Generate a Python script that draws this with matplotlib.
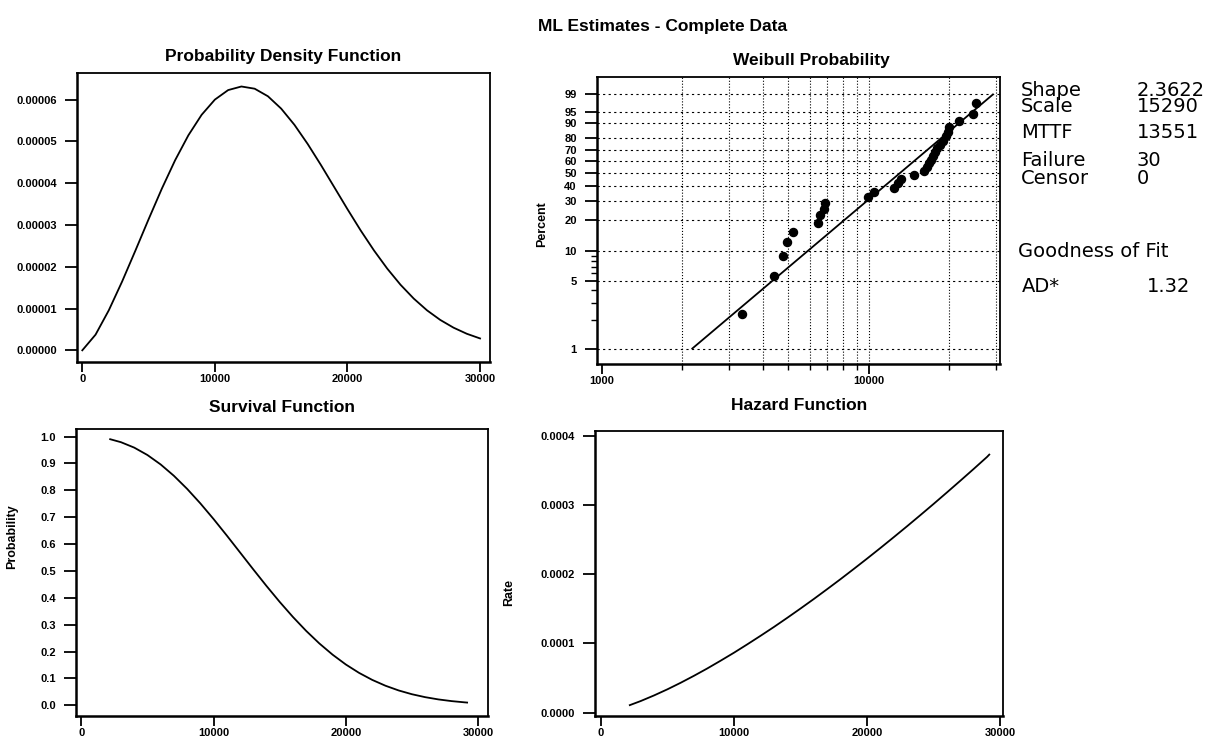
import numpy as np
import matplotlib
matplotlib.use("Agg")
import matplotlib.pyplot as plt
from matplotlib.ticker import FormatStrFormatter, NullFormatter, FixedLocator

plt.rcParams['font.family'] = ['Liberation Sans', 'DejaVu Sans']

W, H = 1222, 742

# values
pdf_x = [0, 1000, 2000, 3000, 4000, 5000, 6000, 7000, 8000, 9000, 10000,
         11000, 12000, 13000, 14000, 15000, 16000, 17000, 18000, 19000, 20000,
         21000, 22000, 23000, 24000, 25000, 26000, 27000, 28000, 29000, 30000]
pdf_y = [0.0, 0.375e-5, 0.959e-5, 1.645e-5, 2.384e-5, 3.138e-5, 3.871e-5,
         4.551e-5, 5.148e-5, 5.639e-5, 6.003e-5, 6.231e-5, 6.317e-5, 6.264e-5,
         6.083e-5, 5.787e-5, 5.399e-5, 4.940e-5, 4.436e-5, 3.908e-5, 3.379e-5,
         2.868e-5, 2.391e-5, 1.956e-5, 1.570e-5, 1.238e-5, 0.957e-5, 0.727e-5,
         0.542e-5, 0.396e-5, 0.284e-5]

life_x = [2183, 3000, 4000, 5000, 6000, 7000, 8000, 9000, 10000, 11000, 12000,
          13000, 14000, 15000, 16000, 17000, 18000, 19000, 20000, 21000, 22000,
          23000, 24000, 25000, 26000, 27000, 28000, 29000, 29170]
surv_y = [0.990, 0.9789, 0.9588, 0.9312, 0.8961, 0.8539, 0.8053, 0.7513,
          0.6930, 0.6317, 0.5688, 0.5058, 0.4440, 0.3846, 0.3286, 0.2768,
          0.2299, 0.1882, 0.1517, 0.1205, 0.0943, 0.0726, 0.0550, 0.0410,
          0.0301, 0.0217, 0.0154, 0.0107, 0.0100]
haz_y = [1.09e-5, 1.68e-5, 2.49e-5, 3.37e-5, 4.32e-5, 5.33e-5, 6.39e-5,
         7.51e-5, 8.66e-5, 9.87e-5, 1.111e-4, 1.238e-4, 1.370e-4, 1.505e-4,
         1.643e-4, 1.785e-4, 1.929e-4, 2.077e-4, 2.227e-4, 2.380e-4, 2.536e-4,
         2.694e-4, 2.855e-4, 3.018e-4, 3.184e-4, 3.352e-4, 3.522e-4, 3.695e-4,
         3.729e-4]

fail_times = [3360, 4400, 4790, 4960, 5220, 6430, 6550, 6780, 6840, 9910,
              10440, 12420, 12850, 13210, 14760, 16100, 16520, 16810, 17110,
              17400, 17710, 18010, 18490, 18980, 19480, 19820, 19990, 21700,
              24600, 25260]
fail_pct = [2.30, 5.59, 8.88, 12.17, 15.46, 18.75, 22.04, 25.33, 28.62, 31.91,
            35.20, 38.49, 41.78, 45.07, 48.36, 51.64, 54.93, 58.22, 61.51,
            64.80, 68.09, 71.38, 74.67, 77.96, 81.25, 84.54, 87.83, 91.12,
            94.41, 97.70]
fit_x = [2183, 29170]
fit_pct = [1.0, 99.0]

pct_ticks = [1, 5, 10, 20, 30, 40, 50, 60, 70, 80, 90, 95, 99]
pct_minor = [2, 3, 4, 6, 7, 8, 9]
time_grid = [2000, 3000, 4000, 5000, 6000, 7000, 8000, 9000, 10000, 20000, 30000]

stats_names = ['Shape', 'Scale', 'MTTF', 'Failure', 'Censor']
stats_vals = ['2.3622', '15290', '13551', '30', '0']
gof_name = 'AD*'
gof_val = '1.32'


def px_axes(fig, l, t, r, b):
    return fig.add_axes([l / W, 1 - b / H, (r - l) / W, (b - t) / H])


def ftext(fig, x, y, s, **kw):
    return fig.text(x / W, 1 - y / H, s, **kw)


def style(ax):
    for side in ['top', 'right']:
        ax.spines[side].set_linewidth(1.3)
    for side in ['left', 'bottom']:
        ax.spines[side].set_linewidth(1.8)
    ax.tick_params(which='major', direction='out', width=1.3, labelsize=8,
                   top=False, right=False)
    ax.tick_params(axis='y', which='major', length=8.5, pad=6)
    ax.tick_params(axis='x', which='major', length=7, pad=2)
    for lab in ax.get_xticklabels() + ax.get_yticklabels():
        lab.set_fontweight('bold')


def ylab(ax, text, l, r, t, b, x_px, y_px):
    ax.set_ylabel(text, fontsize=9, fontweight='bold')
    ax.yaxis.set_label_coords((x_px - l) / (r - l), (b - y_px) / (b - t))


def weib(p):
    p = np.clip(np.asarray(p, dtype=float), 1e-6, 100 - 1e-6) / 100.0
    return np.log(-np.log(1 - p))


def weib_inv(w):
    return 100.0 * (1 - np.exp(-np.exp(np.asarray(w, dtype=float))))


fig = plt.figure(figsize=(W / 100, H / 100), dpi=100)

tfont = dict(fontsize=12.5, fontweight='bold', ha='center', va='center')

# probability density
ax1 = px_axes(fig, 77, 73, 490, 362)
ax1.plot(pdf_x, pdf_y, color='black', lw=1.3)
ax1.set_xlim(-400, 30750)
ax1.set_ylim(-0.0000028, 0.0000664)
ax1.set_xticks([0, 10000, 20000, 30000])
ax1.set_yticks([0, 1e-5, 2e-5, 3e-5, 4e-5, 5e-5, 6e-5])
ax1.yaxis.set_major_formatter(FormatStrFormatter('%.5f'))
style(ax1)
ftext(fig, 283, 57, 'Probability Density Function', **tfont)

# weibull probability plot
L2, T2, R2, B2 = 597, 77, 1000, 364
ax2 = px_axes(fig, L2, T2, R2, B2)
ax2.set_xscale('log')
ax2.set_yscale('function', functions=(weib, weib_inv))
for v in time_grid:
    ax2.axvline(v, color='black', ls=':', lw=0.8, zorder=1)
for p in pct_ticks:
    ax2.axhline(p, color='black', ls=(0, (2, 3)), lw=0.8, zorder=1)
ax2.plot(fit_x, fit_pct, color='black', lw=1.3, zorder=3)
ax2.plot(fail_times, fail_pct, 'o', color='black', ms=5.8, zorder=4)
ax2.set_xlim(960, 31000)
ax2.set_ylim(0.69, 99.91)
ax2.xaxis.set_major_locator(FixedLocator([1000, 10000]))
ax2.xaxis.set_minor_locator(FixedLocator(time_grid))
ax2.xaxis.set_major_formatter(FormatStrFormatter('%d'))
ax2.xaxis.set_minor_formatter(NullFormatter())
ax2.yaxis.set_major_locator(FixedLocator(pct_ticks))
ax2.yaxis.set_minor_locator(FixedLocator(pct_minor))
ax2.yaxis.set_major_formatter(FormatStrFormatter('%d'))
ax2.yaxis.set_minor_formatter(NullFormatter())
style(ax2)
ax2.tick_params(which='minor', direction='out', length=4, width=1.0,
                top=False, right=False)
ylab(ax2, 'Percent', L2, R2, T2, B2, 548, 224)
ftext(fig, 811, 60, 'Weibull Probability', **tfont)

ftext(fig, 538, 26, 'ML Estimates - Complete Data', fontsize=12.5,
      fontweight='bold', ha='left', va='center')

# statistics block
sfont = dict(fontsize=14, ha='left', va='center', family='DejaVu Sans')
stat_rows = [90, 107, 133, 161, 178]
for name, val, y in zip(stats_names, stats_vals, stat_rows):
    ftext(fig, 1021, y, name, **sfont)
    ftext(fig, 1137, y, val, **sfont)
ftext(fig, 1018, 252, 'Goodness of Fit', **sfont)
ftext(fig, 1022, 287, gof_name, **sfont)
ftext(fig, 1147, 287, gof_val, **sfont)

# survival
L3, T3, R3, B3 = 76, 429, 488, 716
ax3 = px_axes(fig, L3, T3, R3, B3)
ax3.plot(life_x, surv_y, color='black', lw=1.3)
ax3.set_xlim(-400, 30750)
ax3.set_ylim(-0.04, 1.028)
ax3.set_xticks([0, 10000, 20000, 30000])
ax3.set_yticks([0.0, 0.1, 0.2, 0.3, 0.4, 0.5, 0.6, 0.7, 0.8, 0.9, 1.0])
ax3.yaxis.set_major_formatter(FormatStrFormatter('%.1f'))
style(ax3)
ylab(ax3, 'Probability', L3, R3, T3, B3, 18, 537)
ftext(fig, 282, 408, 'Survival Function', **tfont)

# hazard
L4, T4, R4, B4 = 595, 431, 1003, 716
ax4 = px_axes(fig, L4, T4, R4, B4)
ax4.plot(life_x, haz_y, color='black', lw=1.3)
ax4.set_xlim(-430, 30200)
ax4.set_ylim(-0.0000048, 0.000407)
ax4.set_xticks([0, 10000, 20000, 30000])
ax4.set_yticks([0, 1e-4, 2e-4, 3e-4, 4e-4])
ax4.yaxis.set_major_formatter(FormatStrFormatter('%.4f'))
style(ax4)
ylab(ax4, 'Rate', L4, R4, T4, B4, 515, 593)
ftext(fig, 799, 406, 'Hazard Function', **tfont)

fig.savefig('out.png', dpi=100)
